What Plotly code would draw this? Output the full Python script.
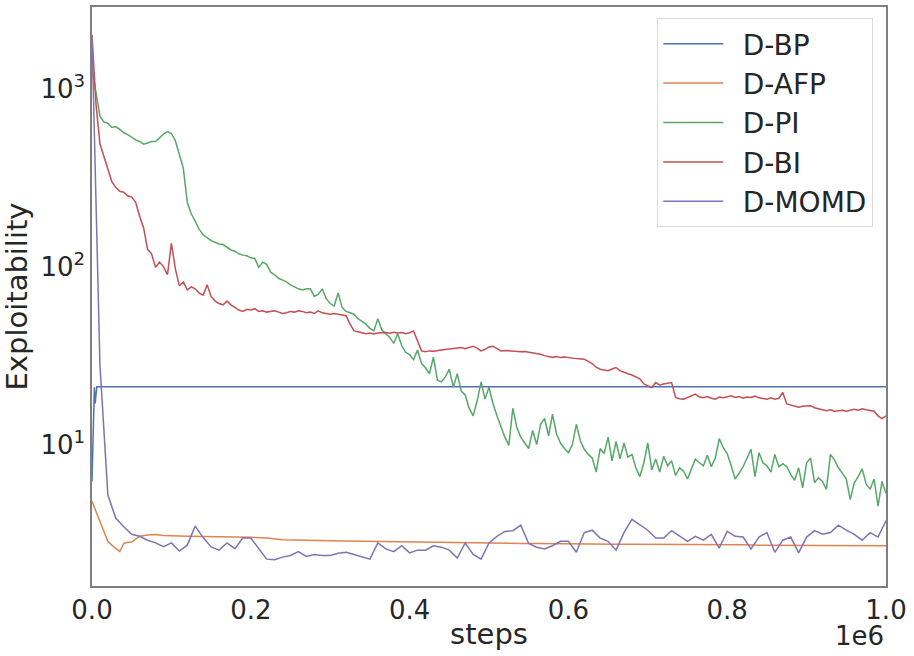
import plotly.graph_objects as go

# evaluation steps
steps = list(range(0, 1000001, 5000))
momd_steps = list(range(0, 1000001, 10000))
bp_steps = [0, 3000, 4000, 6000, 1000000]
afp_steps = [0, 5000, 10000, 15000, 20000, 25000, 30000, 35000, 40000, 45000,
             50000, 55000, 60000, 70000, 80000, 90000] + list(range(100000, 1000001, 20000))

bp = [6.2, 21, 17, 21.1, 21.1]

afp = [4.8, 4.2, 3.7, 3.2, 2.85, 2.72, 2.62, 2.5, 2.78, 2.82,
       2.83, 2.95, 3.05, 3.1, 3.12, 3.08,
       3.06, 3.05, 3.04, 3.02, 3.02, 3.01, 2.98, 2.92, 2.9, 2.89,
       2.88, 2.87, 2.86, 2.86, 2.84, 2.83, 2.82, 2.82, 2.8, 2.8,
       2.79, 2.79, 2.78, 2.78, 2.77, 2.77, 2.76, 2.76, 2.75, 2.75,
       2.75, 2.74, 2.74, 2.74, 2.73, 2.73, 2.73, 2.72, 2.72, 2.71,
       2.71, 2.72, 2.71, 2.7, 2.7, 2.7]

pi = [1300, 925, 700, 650, 640, 605, 612, 590, 565, 552,
      535, 515, 505, 488, 495, 505, 505, 530, 555, 574,
      560, 510, 420, 357, 230, 198, 180, 162, 151, 145,
      140, 137, 134, 133, 128, 124, 122, 118, 116, 115,
      112, 111, 99, 106, 103, 93, 90, 86, 84, 82,
      79, 77, 75, 74, 75, 75, 68, 70, 75, 66,
      62, 60, 71, 59, 56, 55, 54, 51, 49, 47.5,
      45, 43.5, 51, 44, 42, 40, 37, 42, 36, 33,
      32, 30, 34, 28.5, 27, 25, 31, 23, 22.5, 24,
      26.5, 21, 25, 20, 19, 16, 14.5, 17.5, 22.5, 18,
      21, 17, 14.5, 12.5, 11, 9.9, 16, 12.5, 11, 10.2,
      9.5, 12, 10, 13, 14, 11.2, 14.8, 11.5, 10.2, 9.5,
      9, 10, 13, 10.5, 9.4, 8.8, 8.4, 7, 9.5, 8.9,
      11, 8.1, 10.4, 8.3, 10.2, 8.5, 8.8, 7.4, 6.6, 7.9,
      10.2, 7.2, 8.3, 7, 8.6, 7.6, 8.1, 6.7, 7.4, 7.1,
      6.4, 7.3, 8.3, 7.9, 7.6, 8.7, 7.5, 8.4, 10.8, 9.6,
      8.9, 7.6, 6.4, 6.9, 7.5, 8.4, 9.4, 6.6, 9, 7.9,
      7.6, 7, 8.8, 7.5, 7.8, 7.5, 6.8, 6.3, 7.4, 5.7,
      7.9, 8.4, 6.1, 6.5, 6.2, 5.6, 8.8, 8.2, 7.4, 6.9,
      6.4, 4.9, 6.1, 6.6, 7.3, 6, 5.6, 6.4, 4.5, 6.2,
      5.3]

bi = [2000, 820, 490, 415, 355, 300, 278, 265, 262, 250,
      246, 230, 192, 165, 125, 118, 99, 106, 100, 90,
      135, 97, 78, 82, 74, 77, 75, 71, 69, 79,
      68, 64, 62, 61, 64, 61, 59, 57, 56, 57.5,
      57, 58, 56, 56.5, 55.5, 56, 56.4, 55.5, 54.5, 55,
      56, 55.5, 56.4, 56, 55, 55.5, 54.5, 56.4, 55, 54.5,
      54, 54.5, 54, 53.5, 53, 47.5, 43.5, 43, 42.6, 42,
      42.3, 41.8, 42.3, 42.6, 42.6, 42.2, 42.8, 42.4, 42.6, 42,
      42.5, 43.5, 38.3, 33.6, 33.2, 33.6, 33.4, 33.8, 34, 34.2,
      34.5, 34.8, 35, 35.1, 34.6, 35.3, 35.7, 34.8, 33.6, 34.3,
      35.3, 35.7, 34.5, 33.6, 33.8, 33.6, 33.6, 33.4, 33.2, 33.3,
      33, 32.9, 32.5, 32.2, 31.6, 31.3, 30.9, 31.2, 30.8, 31,
      30.9, 30.6, 30.4, 30.3, 30.2, 29.3, 28.5, 27.2, 26.5, 26.2,
      26, 26.6, 27.1, 26, 25.4, 25, 24.6, 24, 23.4, 21.9,
      21.3, 20.9, 22.3, 21.6, 21.9, 22.1, 22.3, 18.4, 18.1, 18,
      18.4, 18.7, 19.2, 18.5, 18.3, 18.6, 18.2, 18, 18.5, 18.3,
      18.6, 18.8, 18.4, 18.6, 18.2, 18.5, 18.4, 18.7, 18.3, 18.1,
      18, 18.3, 18, 18.2, 19.6, 16.9, 16.7, 16.4, 16.2, 16.4,
      16.5, 16.5, 16.1, 15.9, 15.6, 15.5, 15.7, 15.4, 15.5, 15.6,
      15.4, 15.6, 15.8, 15.6, 15.9, 15.7, 15.5, 15.4, 14.5, 14,
      14.5]

momd = [2000, 28, 5.2, 3.85, 3.45, 3.13, 3.05, 2.9, 2.8, 2.67,
        2.8, 2.52, 2.72, 3.48, 3.0, 2.66, 2.55, 2.8, 2.6, 2.98,
        2.98, 2.6, 2.27, 2.25, 2.33, 2.38, 2.5, 2.35, 2.41, 2.38,
        2.38, 2.45, 2.48, 2.41, 2.33, 2.27, 2.8, 2.59, 2.5, 2.7,
        2.46, 2.55, 2.55, 2.7, 2.65, 2.55, 2.3, 2.8, 2.41, 2.27,
        2.8, 3.05, 3.25, 3.28, 3.52, 2.78, 2.65, 2.59, 2.7, 2.86,
        2.86, 2.48, 3.2, 3.3, 2.98, 2.86, 2.55, 3.2, 3.8, 3.56,
        3.3, 2.98, 2.98, 3.28, 3.05, 2.86, 3.05, 2.9, 3.13, 2.62,
        3.25, 3.05, 3.02, 2.59, 3.02, 3.2, 2.48, 2.9, 3.02, 2.46,
        3.02, 3.28, 3.13, 3.2, 3.52, 3.3, 3.13, 2.9, 3.2, 3.02,
        3.73]

names = ['D-BP', 'D-AFP', 'D-PI', 'D-BI', 'D-MOMD']
xs = [bp_steps, afp_steps, steps, steps, momd_steps]
ys = [bp, afp, pi, bi, momd]
colors = ['#4c72b0', '#dd8452', '#55a868', '#c44e52', '#8172b3']

fig = go.Figure()
for i in range(5):
    # a little padding between the legend line and its label
    fig.add_trace(go.Scatter(x=xs[i], y=ys[i], name='\u00a0\u2009' + names[i], mode='lines',
                             line={'color': colors[i], 'width': 1.5}, legendgroup=names[i]))

axis_style = dict(showline=True, mirror=True, linecolor='#7f7f7f', linewidth=1.5,
                  showgrid=False, zeroline=False, ticks='', tickfont_size=26)
fig.update_xaxes(axis_style, range=[0, 1000000],
                 tickvals=[0, 200000, 400000, 600000, 800000, 1000000],
                 ticktext=['0.0', '0.2', '0.4', '0.6', '0.8', '1.0'],
                 title={'text': 'steps', 'font_size': 29, 'standoff': 0})
fig.update_yaxes(axis_style, type='log', range=[0.205, 3.459],
                 tickvals=[10, 100, 1000],
                 ticktext=['10<sup>1</sup>', '10<sup>2</sup>', '10<sup>3</sup>'],
                 title={'text': 'Exploitability', 'font_size': 29, 'standoff': 8})

fig.add_annotation(text='1e6', xref='paper', yref='paper', x=1, y=0,
                   xanchor='right', yanchor='top', yshift=-33, showarrow=False,
                   font={'size': 26})

fig.update_layout(width=914, height=656, margin={'l': 92, 'r': 28, 't': 5, 'b': 70},
                  plot_bgcolor='white', paper_bgcolor='white',
                  font={'family': 'DejaVu Sans', 'size': 26, 'color': '#262626'},
                  legend={'x': 0.984, 'xanchor': 'right', 'y': 0.981, 'yanchor': 'top',
                          'bgcolor': 'white', 'bordercolor': '#d9d9d9', 'borderwidth': 1,
                          'font_size': 28, 'tracegroupgap': 0, 'itemwidth': 60})

# page body has a default margin; drop it so the figure sits at the window corner
fig.write_html('out.html', config={'displayModeBar': False},
               post_script="document.body.style.margin='0';")
